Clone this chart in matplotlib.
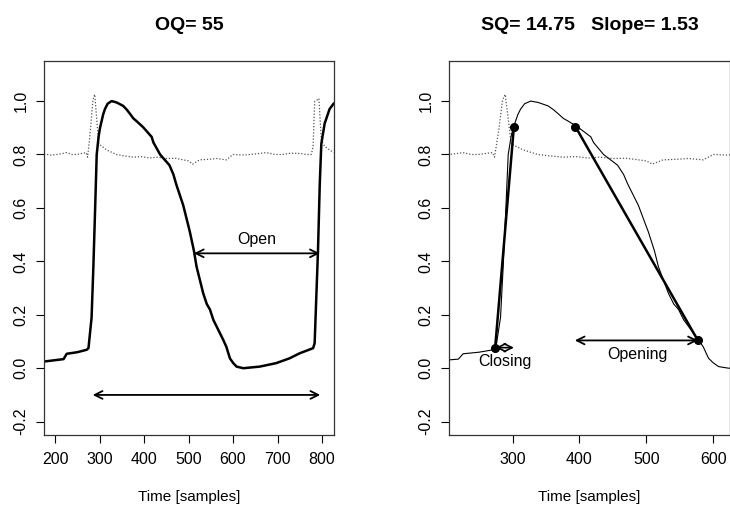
import matplotlib.pyplot as plt

plt.rcParams['font.family'] = ['Liberation Sans', 'DejaVu Sans']

# EGG signal (solid)
egg_t = [175, 219, 226, 250, 271, 275, 282, 286, 290, 293.5, 298, 301, 308, 312, 318,
         327, 338, 353, 361, 368, 376, 383, 398, 417, 421, 436, 457, 466, 472, 488,
         503, 512, 518, 527, 533, 541, 548, 556, 578, 585, 593, 600, 608, 623, 660,
         697, 727, 750, 780, 783.5, 787, 791, 795, 798.5, 806, 817, 826]
egg_v = [0.025, 0.034, 0.054, 0.060, 0.069, 0.075, 0.19, 0.38, 0.60, 0.80, 0.87, 0.90, 0.95, 0.97, 0.99,
         1.00, 0.995, 0.982, 0.968, 0.953, 0.935, 0.925, 0.902, 0.866, 0.845, 0.80, 0.76, 0.725, 0.69, 0.61,
         0.51, 0.44, 0.38, 0.32, 0.28, 0.24, 0.22, 0.18, 0.106, 0.08, 0.037, 0.02, 0.006, 0.0, 0.006,
         0.019, 0.037, 0.056, 0.075, 0.094, 0.256, 0.44, 0.69, 0.84, 0.916, 0.97, 0.99]

# DEGG-like reference signal (dotted)
ref_t = [175, 190, 204, 215, 226, 238, 249, 260, 270, 273, 279, 285, 289, 292.5, 298,
         316, 338, 355, 376, 395, 413, 430, 451, 470, 488, 500, 509, 525, 545, 563,
         585, 600, 620, 638, 656, 675, 695, 712, 730, 750, 765, 776, 780, 783.5, 789,
         793, 798.5, 806, 826]
ref_v = [0.802, 0.798, 0.80, 0.803, 0.807, 0.80, 0.80, 0.804, 0.807, 0.79, 0.885, 1.004, 1.025, 0.954, 0.84,
         0.817, 0.80, 0.795, 0.79, 0.792, 0.787, 0.79, 0.785, 0.786, 0.78, 0.776, 0.764, 0.78, 0.782, 0.785,
         0.78, 0.80, 0.798, 0.80, 0.803, 0.807, 0.80, 0.80, 0.805, 0.804, 0.80, 0.80, 0.83, 0.998, 1.004,
         1.01, 0.854, 0.83, 0.807]

# fitted slope points (right panel)
close_t = [274, 302]
close_v = [0.077, 0.904]
open_t = [394, 577]
open_v = [0.904, 0.104]

# annotation arrows
open_arrow = (512, 795, 0.43)
period_arrow = (284.5, 796, -0.10)
closing_arrow = (275, 302, 0.077)
opening_arrow = (393, 577, 0.104)

oq = 55
sq = 14.75
slope = 1.53

yticks = [-0.2, 0.0, 0.2, 0.4, 0.6, 0.8, 1.0]

fig = plt.figure(figsize=(7.3, 5.11), dpi=100)
ax1 = fig.add_axes([44 / 730, 1 - 435 / 511, 290 / 730, 374 / 511])
ax2 = fig.add_axes([449 / 730, 1 - 435 / 511, 281 / 730, 374 / 511])


def style(ax, xlim, xticks, title):
    ax.set_xlim(*xlim)
    ax.set_ylim(-0.25, 1.15)
    ax.set_xticks(xticks)
    ax.set_yticks(yticks)
    ax.set_yticklabels([f'{v:.1f}' for v in yticks], rotation=90, va='center')
    ax.tick_params(direction='out', length=6, width=0.8, labelsize=11.5, colors='black')
    ax.tick_params(axis='x', pad=6)
    ax.tick_params(axis='y', pad=5)
    for s in ax.spines.values():
        s.set_linewidth(0.9)
        s.set_color('#333333')
    ax.set_title(title, fontsize=14, fontweight='bold', pad=22)
    ax.set_xlabel('Time [samples]', fontsize=11, labelpad=17)


def arrow(ax, x0, x1, y, lw=1.3):
    ax.annotate('', xy=(x1, y), xytext=(x0, y),
                arrowprops=dict(arrowstyle='<->', lw=lw, color='black',
                                shrinkA=0, shrinkB=0, mutation_scale=14))


# left panel: open quotient
ax1.plot(ref_t, ref_v, color='#555555', lw=0.9, ls=(0, (1, 1.5)))
ax1.plot(egg_t, egg_v, color='black', lw=1.8)
arrow(ax1, *open_arrow)
arrow(ax1, *period_arrow)
ax1.text((open_arrow[0] + open_arrow[1]) / 2, open_arrow[2] + 0.05, 'Open',
         ha='center', va='center', fontsize=11.5)
style(ax1, (175, 827), [200, 300, 400, 500, 600, 700, 800], f'OQ= {oq}')

# right panel: speed quotient / slope
ax2.plot(ref_t, ref_v, color='#555555', lw=0.9, ls=(0, (1, 1.5)))
ax2.plot(egg_t, egg_v, color='black', lw=0.8)
ax2.plot(close_t, close_v, color='black', lw=1.8, marker='o', ms=5.5)
ax2.plot(open_t, open_v, color='black', lw=1.8, marker='o', ms=5.5)
arrow(ax2, *closing_arrow, lw=1.2)
arrow(ax2, *opening_arrow)
ax2.text(288, 0.025, 'Closing', ha='center', va='center', fontsize=11.5)
ax2.text(487, 0.05, 'Opening', ha='center', va='center', fontsize=11.5)
style(ax2, (205, 625), [300, 400, 500, 600], f'SQ= {sq}   Slope= {slope}')

fig.savefig('out.png', dpi=100)
